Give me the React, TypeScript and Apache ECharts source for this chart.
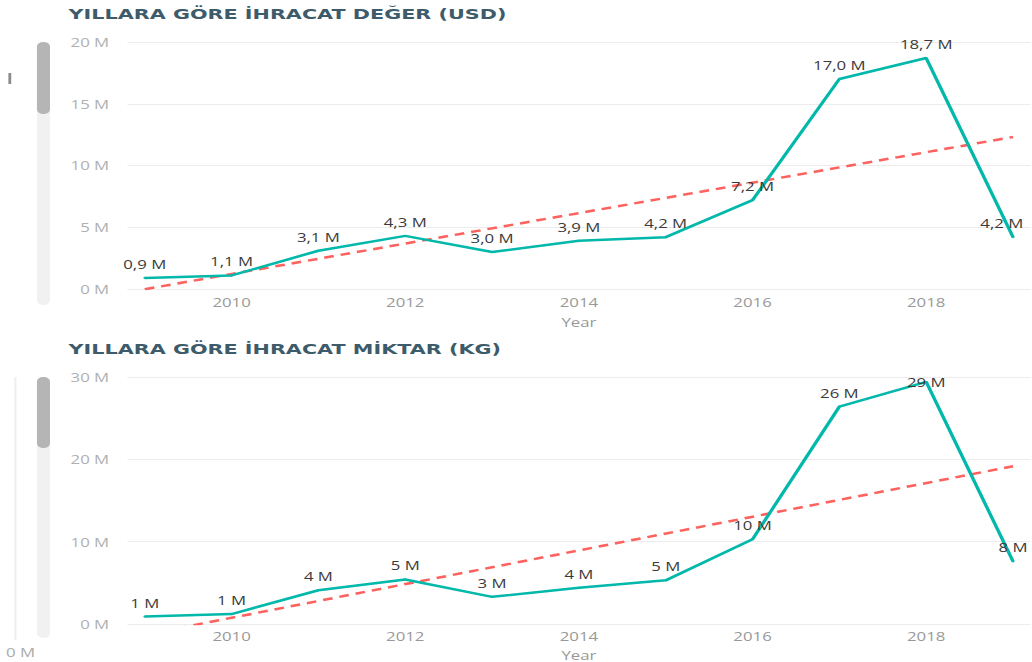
import React, { useEffect, useRef } from "react";
import * as echarts from "echarts";

const years = [2009, 2010, 2011, 2012, 2013, 2014, 2015, 2016, 2017, 2018, 2019];
const usdValues = [0.9, 1.1, 3.1, 4.3, 3.0, 3.9, 4.2, 7.2, 17.0, 18.7, 4.2];
const kgValues = [0.9, 1.2, 4.1, 5.4, 3.3, 4.4, 5.3, 10.3, 26.4, 29.4, 7.6];
const yearTicks = [2010, 2012, 2014, 2016, 2018];
const titleUsd = "YILLARA GÖRE İHRACAT DEĞER (USD)";
const titleKg = "YILLARA GÖRE İHRACAT MİKTAR (KG)";
const axisName = "Year";

const SX = 1.4;
const W = 737;
const H = 662;
const FONT = "'Open Sans', 'Noto Sans', sans-serif";
const TEAL = "#01B8AA";
const RED = "#FD625E";

function trend(xs: number[], ys: number[]) {
  const n = xs.length;
  const mx = xs.reduce((a, b) => a + b, 0) / n;
  const my = ys.reduce((a, b) => a + b, 0) / n;
  let sxy = 0;
  let sxx = 0;
  for (let i = 0; i < n; i++) {
    sxy += (xs[i] - mx) * (ys[i] - my);
    sxx += (xs[i] - mx) * (xs[i] - mx);
  }
  const k = sxy / sxx;
  const b = my - k * mx;
  return [
    [xs[0], k * xs[0] + b],
    [xs[n - 1], k * xs[n - 1] + b],
  ];
}

export default function App() {
  const ref = useRef<HTMLDivElement>(null);
  useEffect(() => {
    if (!ref.current) return;
    const chart = echarts.init(ref.current, null, { renderer: "svg" });
    const axisMax = [20, 30];
    const build = (vals: number[], max: number, lastShift: number) =>
      years.map((y, i) => {
        const item: any = { value: [y, vals[i]] };
        if (vals[i] > max * 0.95) item.label = { position: "inside" };
        if (i === years.length - 1 && lastShift) item.label = { offset: [lastShift, 0] };
        return item;
      });
    const labelStyle = (fmt: (v: number) => string) => ({
      show: true,
      position: "top",
      distance: 7,
      color: "#3a3a3a",
      fontSize: 12,
      fontFamily: FONT,
      formatter: (p: any) => fmt(p.value[1]),
    });
    const fmtUsd = (v: number) => v.toFixed(1).replace(".", ",") + " M";
    const fmtKg = (v: number) => Math.round(v) + " M";
    const titleStyle = {
      fontFamily: "'DejaVu Sans', sans-serif",
      fontWeight: "bold",
      fontSize: 14.8,
      color: "#3d5b6a",
    };
    chart.setOption({
      animation: false,
      title: [
        { text: titleUsd, left: 49, top: 6, padding: 0, textStyle: titleStyle },
        { text: titleKg, left: 49, top: 341, padding: 0, textStyle: titleStyle },
      ],
      grid: [
        { left: 91, right: 1, top: 42, height: 247, outerBoundsMode: "none" },
        { left: 91, right: 1, top: 377, height: 247, outerBoundsMode: "none" },
      ],
      xAxis: [0, 1].map((i) => ({
        type: "value",
        gridIndex: i,
        min: 2008.8,
        max: 2019.2,
        splitLine: { show: false },
        axisLine: { show: false },
        axisTick: { show: false },
        axisLabel: {
          customValues: yearTicks,
          formatter: (v: number) => String(v),
          color: "#999999",
          fontSize: 12,
          fontFamily: FONT,
          margin: i === 0 ? 7 : 6,
        },
        name: axisName,
        nameLocation: "middle",
        nameGap: i === 0 ? 27 : 25,
        nameTextStyle: { color: "#999999", fontSize: 12, fontFamily: FONT },
      })),
      yAxis: [0, 1].map((i) => ({
        type: "value",
        gridIndex: i,
        min: 0,
        max: axisMax[i],
        interval: axisMax[i] / (i === 0 ? 4 : 3),
        axisLine: { show: false },
        axisTick: { show: false },
        splitLine: { lineStyle: { color: "#ececec", width: 1 } },
        axisLabel: {
          formatter: (v: number) => v + " M",
          color: "#b0b0b0",
          fontSize: 12,
          fontFamily: FONT,
          margin: 13,
        },
      })),
      series: [
        {
          type: "line",
          xAxisIndex: 0,
          yAxisIndex: 0,
          data: trend(years, usdValues),
          symbol: "none",
          silent: true,
          lineStyle: { color: RED, width: 2.5, type: [7, 5] },
          z: 1,
        },
        {
          type: "line",
          xAxisIndex: 0,
          yAxisIndex: 0,
          data: build(usdValues, axisMax[0], -8),
          symbol: "circle",
          symbolSize: 2,
          showSymbol: true,
          lineStyle: { color: TEAL, width: 2.5 },
          itemStyle: { color: TEAL },
          label: labelStyle(fmtUsd),
          z: 2,
        },
        {
          type: "line",
          xAxisIndex: 1,
          yAxisIndex: 1,
          data: trend(years, kgValues),
          symbol: "none",
          silent: true,
          lineStyle: { color: RED, width: 2.5, type: [7, 5] },
          z: 1,
        },
        {
          type: "line",
          xAxisIndex: 1,
          yAxisIndex: 1,
          data: build(kgValues, axisMax[1], 0),
          symbol: "circle",
          symbolSize: 2,
          showSymbol: true,
          lineStyle: { color: TEAL, width: 2.5 },
          itemStyle: { color: TEAL },
          label: labelStyle(fmtKg),
          z: 2,
        },
      ],
      graphic: [
        { type: "rect", shape: { x: 6, y: 73, width: 2, height: 11 }, style: { fill: "#8a8a8a" } },
        { type: "rect", shape: { x: 26.4, y: 42, width: 9.3, height: 263, r: 4.6 }, style: { fill: "#f1f1f1" } },
        { type: "rect", shape: { x: 26.4, y: 42, width: 9.3, height: 72, r: 4.6 }, style: { fill: "#b5b5b5" } },
        { type: "line", shape: { x1: 11, y1: 377, x2: 11, y2: 640 }, style: { stroke: "#eeeeee", lineWidth: 1.5 } },
        { type: "rect", shape: { x: 26.4, y: 377, width: 9.3, height: 261, r: 4.6 }, style: { fill: "#f1f1f1" } },
        { type: "rect", shape: { x: 26.4, y: 377, width: 9.3, height: 71, r: 4.6 }, style: { fill: "#b5b5b5" } },
        {
          type: "text",
          x: 25,
          y: 652,
          style: {
            text: "0 M",
            align: "right",
            verticalAlign: "middle",
            fill: "#aaaaaa",
            fontSize: 12,
            fontFamily: FONT,
          },
        },
      ],
    });
    return () => chart.dispose();
  }, []);
  return (
    <div
      ref={ref}
      style={{
        position: "absolute",
        left: 0,
        top: 0,
        width: W,
        height: H,
        transform: `scaleX(${SX})`,
        transformOrigin: "0 0",
        background: "#ffffff",
      }}
    />
  );
}
